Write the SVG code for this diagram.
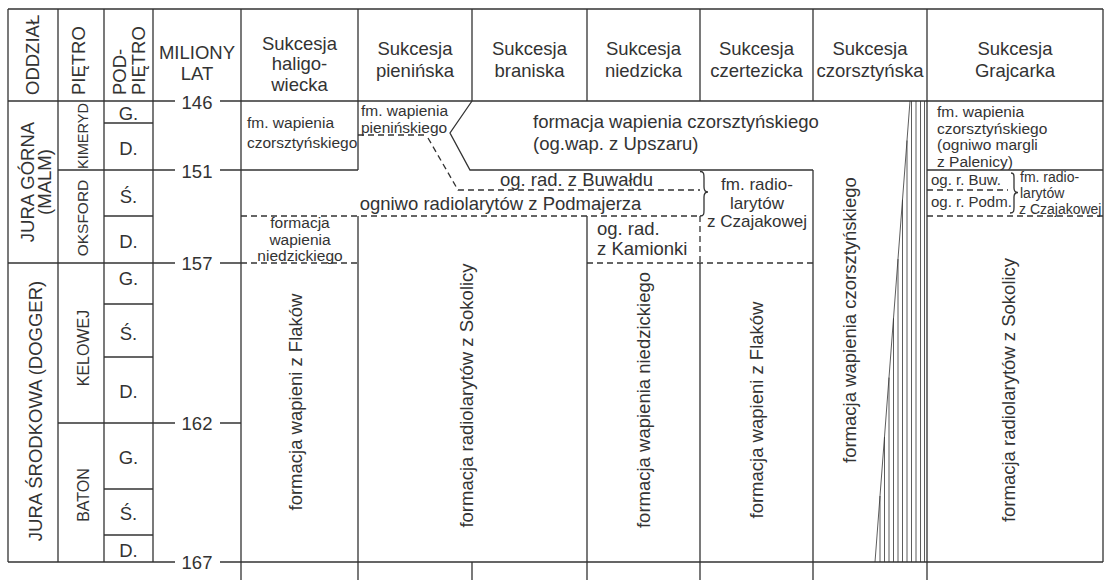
<svg xmlns="http://www.w3.org/2000/svg" width="1105" height="580" viewBox="0 0 1105 580">
<style>
.t{font-family:"Liberation Sans",Arial,sans-serif;fill:#333;font-size:18.5px}
.m{text-anchor:middle}
.s{font-size:15.5px}
.xs{font-size:14px}
.ln{stroke:#333;stroke-width:1.3;fill:none}
.d{stroke-dasharray:6 4}
.h{stroke-width:0.8}
</style>
<rect width="1105" height="580" fill="#fff"/>
<g id="connectors" class="ln">
  <path d="M8,9H1103M8,101H175M220,101H1103"/>
  <path d="M8,9V562M58,9V562M104,9V562M153,9V562M241,9V580M358,9V170M358,216V580M472,9V101M472,562V580M587,9V101M587,216V580M700,9V101M700,263V580M813,9V101M813,170V580M927,9V580M1103,9V562"/>
  <path d="M104,123H153M58,170H175M220,170H358M104,216H153M8,263H175M220,263H241M104,304H153M104,357H153M58,423H175M220,423H241M104,489H153M104,535H153M8,562H175M220,562H1103M927,170H1103"/>
  <path d="M472,101L450,133L470,170H813"/>
  <path class="d" d="M241,216H700M927,216H1103M241,263H358M587,263H813M700,216V263M927,190H1008M358,135H425M428,138L458,190H700"/>
  <path d="M700,171.5C704,171.5 704,174 704,178V187C704,190.5 705.5,192 708,192C705.5,192 704,193.5 704,197V210C704,214 704,216 700,216"/>
  <path d="M1011,173C1014,173 1014,175 1014,178V188C1014,191 1015.5,192.5 1018,192.5C1015.5,192.5 1014,194 1014,197V207C1014,211 1014,213 1010,213"/>
  <g id="hatch" class="h">
    <path d="M910,101L875,562"/>
    <path d="M880,496V562M884.5,437V562M889,377.6V562M893.5,318.3V562M898,259.1V562M902.5,199.8V562M907,140.5V562M911.5,101V562M916,101V562M920.5,101V562M924.5,101V562"/>
  </g>
</g>
<g id="header" class="t">
  <text transform="translate(38.5,95) rotate(-90)">ODDZIAŁ</text>
  <text transform="translate(85,95) rotate(-90)">PIĘTRO</text>
  <text transform="translate(126,95) rotate(-90)">POD-</text>
  <text transform="translate(144.5,95) rotate(-90)">PIĘTRO</text>
  <text class="m" x="197" y="58.5">MILIONY</text>
  <text class="m" x="197" y="80">LAT</text>
  <g id="h-haligowiecka" class="m"><text x="299.5" y="49.5">Sukcesja</text><text x="299.5" y="70">haligo-</text><text x="299.5" y="90.5">wiecka</text></g>
  <g id="h-pieninska" class="m"><text x="415" y="55">Sukcesja</text><text x="415" y="77">pienińska</text></g>
  <g id="h-braniska" class="m"><text x="529.5" y="55">Sukcesja</text><text x="529.5" y="77">braniska</text></g>
  <g id="h-niedzicka" class="m"><text x="643.5" y="55">Sukcesja</text><text x="643.5" y="77">niedzicka</text></g>
  <g id="h-czertezicka" class="m"><text x="756.5" y="55">Sukcesja</text><text x="756.5" y="77">czertezicka</text></g>
  <g id="h-czorsztynska" class="m"><text x="870" y="55">Sukcesja</text><text x="870" y="77">czorsztyńska</text></g>
  <g id="h-grajcarka" class="m"><text x="1015" y="55">Sukcesja</text><text x="1015" y="77">Grajcarka</text></g>
</g>
<g id="ages" class="t m">
  <text x="197" y="109">146</text>
  <text x="197" y="177.5">151</text>
  <text x="197" y="270">157</text>
  <text x="197" y="429.5">162</text>
  <text x="197" y="569">167</text>
</g>
<g id="stratigraphy" class="t m">
  <text transform="translate(33.5,182) rotate(-90)">JURA GÓRNA</text>
  <text transform="translate(51,182) rotate(-90)">(MALM)</text>
  <text transform="translate(41.5,411) rotate(-90)">JURA ŚRODKOWA (DOGGER)</text>
  <text transform="translate(87.5,136) rotate(-90)" style="font-size:14.5px">KIMERYD</text>
  <text transform="translate(87.5,218) rotate(-90)" style="font-size:15.5px">OKSFORD</text>
  <text transform="translate(89,348) rotate(-90)" style="font-size:16px">KELOWEJ</text>
  <text transform="translate(89,495) rotate(-90)" style="font-size:16px">BATON</text>
  <text x="128.5" y="120">G.</text>
  <text x="128.5" y="155">D.</text>
  <text x="128.5" y="203">Ś.</text>
  <text x="128.5" y="248">D.</text>
  <text x="128.5" y="285">G.</text>
  <text x="128.5" y="340">Ś.</text>
  <text x="128.5" y="398">D.</text>
  <text x="128.5" y="464">G.</text>
  <text x="128.5" y="520">Ś.</text>
  <text x="128.5" y="557">D.</text>
</g>
<g id="haligowiecka" class="t">
  <text class="s" x="247" y="128">fm. wapienia</text>
  <text class="s" x="247" y="148">czorsztyńskiego</text>
  <text class="s m" x="300" y="228">formacja</text>
  <text class="s m" x="300" y="244.5">wapienia</text>
  <text class="s m" x="300" y="261">niedzickiego</text>
  <text class="m" transform="translate(301.5,402) rotate(-90)">formacja wapieni z Flaków</text>
</g>
<g id="pieninska" class="t">
  <text class="s" x="361" y="115.5">fm. wapienia</text>
  <text class="s" x="361" y="133">pienińskiego</text>
  <text class="m" transform="translate(473,395.5) rotate(-90)">formacja radiolarytów z Sokolicy</text>
</g>
<g id="czorsztyn-formation" class="t">
  <text x="533" y="127.5">formacja wapienia czorsztyńskiego</text>
  <text x="533" y="150">(og.wap. z Upszaru)</text>
  <text class="m" x="576.5" y="186">og. rad. z Buwałdu</text>
  <text class="m" x="500.5" y="210">ogniwo radiolarytów z Podmajerza</text>
</g>
<g id="niedzicka" class="t">
  <text x="597" y="235">og. rad.</text>
  <text x="597" y="255">z Kamionki</text>
  <text class="m" transform="translate(650,400) rotate(-90)">formacja wapienia niedzickiego</text>
</g>
<g id="czertezicka" class="t m" style="font-size:17px">
  <text x="757" y="190">fm. radio-</text>
  <text x="757" y="208.5">larytów</text>
  <text x="757" y="227">z Czajakowej</text>
  <text transform="translate(763,410) rotate(-90)" style="font-size:18.5px">formacja wapieni z Flaków</text>
</g>
<g id="czorsztynska" class="t">
  <text transform="translate(856,463) rotate(-90)">formacja wapienia czorsztyńskiego</text>
</g>
<g id="grajcarka" class="t">
  <text class="s" x="937" y="117">fm. wapienia</text>
  <text class="s" x="937" y="133.5">czorsztyńskiego</text>
  <text class="s" x="937" y="150">(ogniwo margli</text>
  <text class="s" x="937" y="166.5">z Palenicy)</text>
  <text x="931" y="185" style="font-size:15px">og. r. Buw.</text>
  <text x="931" y="207" style="font-size:15px">og. r. Podm.</text>
  <text class="xs" x="1020" y="181.5">fm. radio-</text>
  <text class="xs" x="1020" y="197.5">larytów</text>
  <text class="xs" x="1019" y="213.5">z Czajakowej</text>
  <text class="m" transform="translate(1015,390) rotate(-90)">formacja radiolarytów z Sokolicy</text>
</g>
</svg>
